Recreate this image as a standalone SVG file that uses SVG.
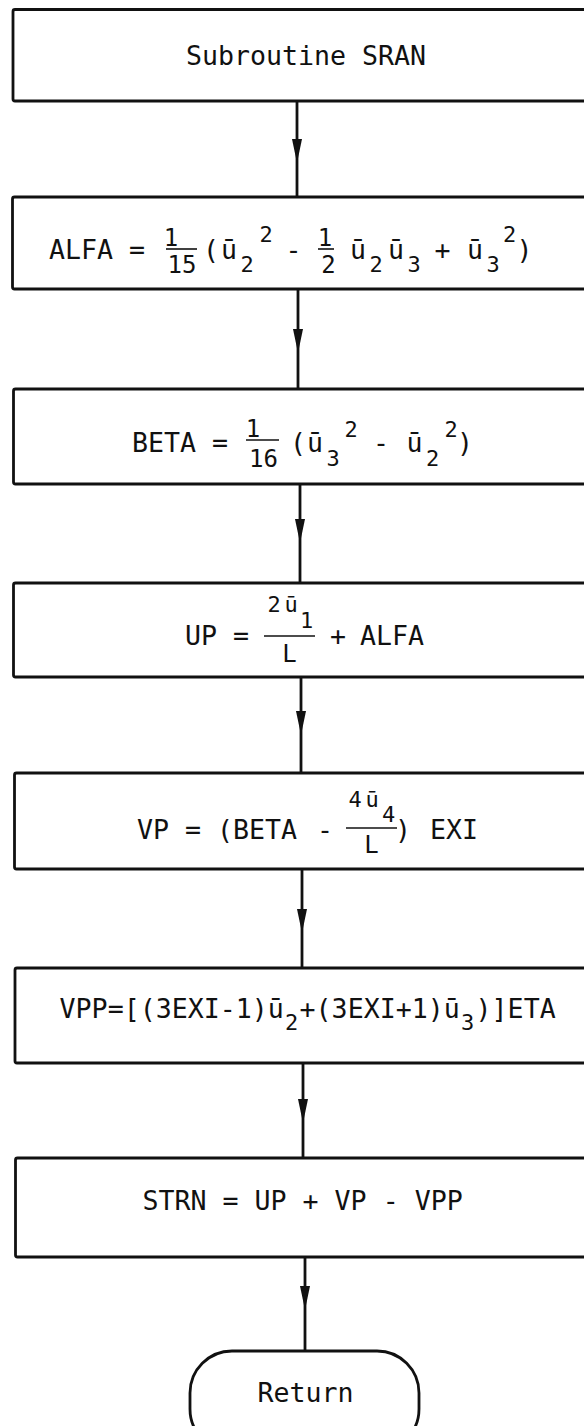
<svg xmlns="http://www.w3.org/2000/svg" width="584" height="1426" viewBox="0 0 584 1426">
<style>
.box{fill:#fff;stroke:#111;stroke-width:2.8}
.con{fill:none;stroke:#111;stroke-width:2.8}
.bar{stroke:#111;stroke-width:1.6}
text{font-family:"DejaVu Sans Mono","Liberation Mono",monospace;font-size:26.6px;fill:#111}
.m{text-anchor:middle}
.s{font-size:22px}
.f{font-size:24px}
.n{font-size:22px}
</style>
<defs>
<marker id="ah" markerUnits="userSpaceOnUse" viewBox="0 0 24 10" markerWidth="24" markerHeight="10" refX="24" refY="5" orient="auto">
<path d="M0,0 L24,5 L0,10 Z" fill="#111"/>
</marker>
</defs>
<rect width="584" height="1426" fill="#fff"/>
<g id="connectors">
<path class="con" marker-mid="url(#ah)" d="M297,101 V163 V197"/>
<path class="con" marker-mid="url(#ah)" d="M298,289 V353 V389"/>
<path class="con" marker-mid="url(#ah)" d="M300,484 V543 V583"/>
<path class="con" marker-mid="url(#ah)" d="M301,677 V735 V773"/>
<path class="con" marker-mid="url(#ah)" d="M302,869 V933 V968"/>
<path class="con" marker-mid="url(#ah)" d="M303,1063 V1123 V1158"/>
<path class="con" marker-mid="url(#ah)" d="M305,1257 V1310 V1351"/>
</g>
<g id="n1">
<rect class="box" x="13" y="9.5" width="600" height="91.5" rx="2"/>
<text class="m" x="306" y="65">Subroutine SRAN</text>
</g>
<g id="n2">
<rect class="box" x="12.5" y="197" width="600" height="92" rx="2"/>
<text x="49" y="259">ALFA =</text>
<text class="m f" x="171" y="246">1</text>
<line class="bar" x1="166" y1="249" x2="197" y2="249"/>
<text class="m f" x="182" y="273">15</text>
<text class="m" x="211" y="259">(</text>
<text class="m" x="229" y="259">ū</text>
<text class="m s" x="247" y="272">2</text>
<text class="m s" x="266" y="242">2</text>
<text class="m" x="293.5" y="259">-</text>
<text class="m f" x="325" y="246">1</text>
<line class="bar" x1="318" y1="249" x2="334" y2="249"/>
<text class="m f" x="328.5" y="273">2</text>
<text class="m" x="358" y="259">ū</text>
<text class="m s" x="376" y="272">2</text>
<text class="m" x="396" y="259">ū</text>
<text class="m s" x="414" y="272">3</text>
<text class="m" x="442.5" y="259">+</text>
<text class="m" x="475" y="259">ū</text>
<text class="m s" x="493" y="272">3</text>
<text class="m s" x="509.5" y="242">2</text>
<text class="m" x="524.5" y="259">)</text>
</g>
<g id="n3">
<rect class="box" x="13.5" y="389" width="600" height="95" rx="2"/>
<text x="132" y="452">BETA =</text>
<text class="m f" x="253" y="437">1</text>
<line class="bar" x1="246" y1="440" x2="279" y2="440"/>
<text class="m f" x="263.5" y="467">16</text>
<text class="m" x="298" y="452">(</text>
<text class="m" x="315" y="452">ū</text>
<text class="m s" x="333" y="466">3</text>
<text class="m s" x="351" y="437">2</text>
<text class="m" x="381" y="452">-</text>
<text class="m" x="414.5" y="452">ū</text>
<text class="m s" x="432.5" y="466">2</text>
<text class="m s" x="451" y="437">2</text>
<text class="m" x="465" y="452">)</text>
</g>
<g id="n4">
<rect class="box" x="13.5" y="583" width="600" height="94" rx="2"/>
<text x="185" y="645">UP =</text>
<text class="m n" x="274" y="612">2</text>
<text class="m n" x="291" y="612">ū</text>
<text class="m s" x="306.5" y="628">1</text>
<line class="bar" x1="264" y1="636" x2="315" y2="636"/>
<text class="m f" x="289.5" y="662">L</text>
<text class="m" x="338" y="645">+</text>
<text x="360" y="645">ALFA</text>
</g>
<g id="n5">
<rect class="box" x="14.5" y="773" width="600" height="96" rx="2"/>
<text x="137" y="839">VP = (BETA</text>
<text class="m" x="325" y="839">-</text>
<text class="m n" x="355" y="807">4</text>
<text class="m n" x="372" y="807">ū</text>
<text class="m s" x="388.5" y="822">4</text>
<line class="bar" x1="346" y1="828" x2="397" y2="828"/>
<text class="m f" x="371.5" y="853">L</text>
<text class="m" x="403" y="839">)</text>
<text x="430" y="839">EXI</text>
</g>
<g id="n6">
<rect class="box" x="15" y="968" width="600" height="95" rx="2"/>
<text x="59.6" y="1018">VPP=[(3EXI-1)ū</text>
<text class="m s" x="291.6" y="1030">2</text>
<text x="299.6" y="1018">+(3EXI+1)ū</text>
<text class="m s" x="467.6" y="1030">3</text>
<text x="475.6" y="1018">)]ETA</text>
</g>
<g id="n7">
<rect class="box" x="15.5" y="1158" width="600" height="99" rx="2"/>
<text class="m" x="302.6" y="1210">STRN = UP + VP - VPP</text>
</g>
<g id="n8">
<rect class="box" x="190" y="1351" width="229" height="100" rx="42"/>
<text class="m" x="305.5" y="1402">Return</text>
</g>
</svg>
